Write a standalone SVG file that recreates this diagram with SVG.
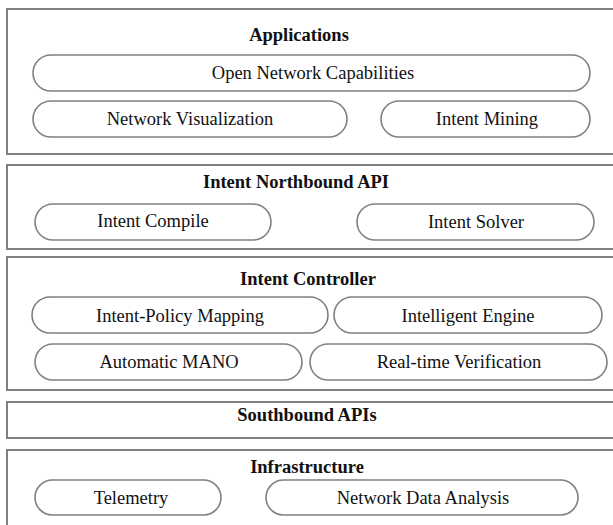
<svg xmlns="http://www.w3.org/2000/svg" width="613" height="525" viewBox="0 0 613 525">
<style>
.layer{fill:#fff;stroke:#808080;stroke-width:2}
.pill{fill:#fff;stroke:#808080;stroke-width:1.6}
.t{font-family:"Liberation Serif","Times New Roman",serif;font-size:18.5px;fill:#111;text-anchor:middle;dominant-baseline:central}
.h{font-weight:bold}
</style>
<rect width="613" height="525" fill="#fff"/>
<g id="applications">
<rect class="layer" x="7" y="9" width="620" height="145"/>
<text class="t h" x="299" y="35">Applications</text>
</g>
<g id="open-network-capabilities"><rect class="pill" x="33" y="55" width="557" height="36" rx="18"/><text class="t" x="313" y="73">Open Network Capabilities</text></g>
<g id="network-visualization"><rect class="pill" x="33" y="101" width="314" height="36" rx="18"/><text class="t" x="190" y="119">Network Visualization</text></g>
<g id="intent-mining"><rect class="pill" x="381" y="101" width="209" height="36" rx="18"/><text class="t" x="487" y="119">Intent Mining</text></g>
<g id="intent-northbound-api">
<rect class="layer" x="7" y="165" width="620" height="84"/>
<text class="t h" x="296" y="182">Intent Northbound API</text>
</g>
<g id="intent-compile"><rect class="pill" x="35" y="204" width="236" height="36" rx="18"/><text class="t" x="153" y="221">Intent Compile</text></g>
<g id="intent-solver"><rect class="pill" x="357" y="204" width="237" height="36" rx="18"/><text class="t" x="476" y="222">Intent Solver</text></g>
<g id="intent-controller">
<rect class="layer" x="7" y="257" width="620" height="133"/>
<text class="t h" x="308" y="279">Intent Controller</text>
</g>
<g id="intent-policy-mapping"><rect class="pill" x="32" y="297" width="296" height="36" rx="18"/><text class="t" x="180" y="316">Intent-Policy Mapping</text></g>
<g id="intelligent-engine"><rect class="pill" x="334" y="297" width="268" height="36" rx="18"/><text class="t" x="468" y="316">Intelligent Engine</text></g>
<g id="automatic-mano"><rect class="pill" x="35" y="344" width="267" height="36" rx="18"/><text class="t" x="169" y="362">Automatic MANO</text></g>
<g id="real-time-verification"><rect class="pill" x="310" y="344" width="297" height="36" rx="18"/><text class="t" x="459" y="362">Real-time Verification</text></g>
<g id="southbound-apis">
<rect class="layer" x="7" y="402" width="620" height="36"/>
<text class="t h" x="307" y="415">Southbound APIs</text>
</g>
<g id="infrastructure">
<rect class="layer" x="7" y="450" width="620" height="90"/>
<text class="t h" x="307" y="467">Infrastructure</text>
</g>
<g id="telemetry"><rect class="pill" x="35" y="480" width="186" height="35" rx="17.5"/><text class="t" x="131" y="498">Telemetry</text></g>
<g id="network-data-analysis"><rect class="pill" x="266" y="480" width="312" height="35" rx="17.5"/><text class="t" x="423" y="498">Network Data Analysis</text></g>
<g id="connectors"></g>
</svg>
